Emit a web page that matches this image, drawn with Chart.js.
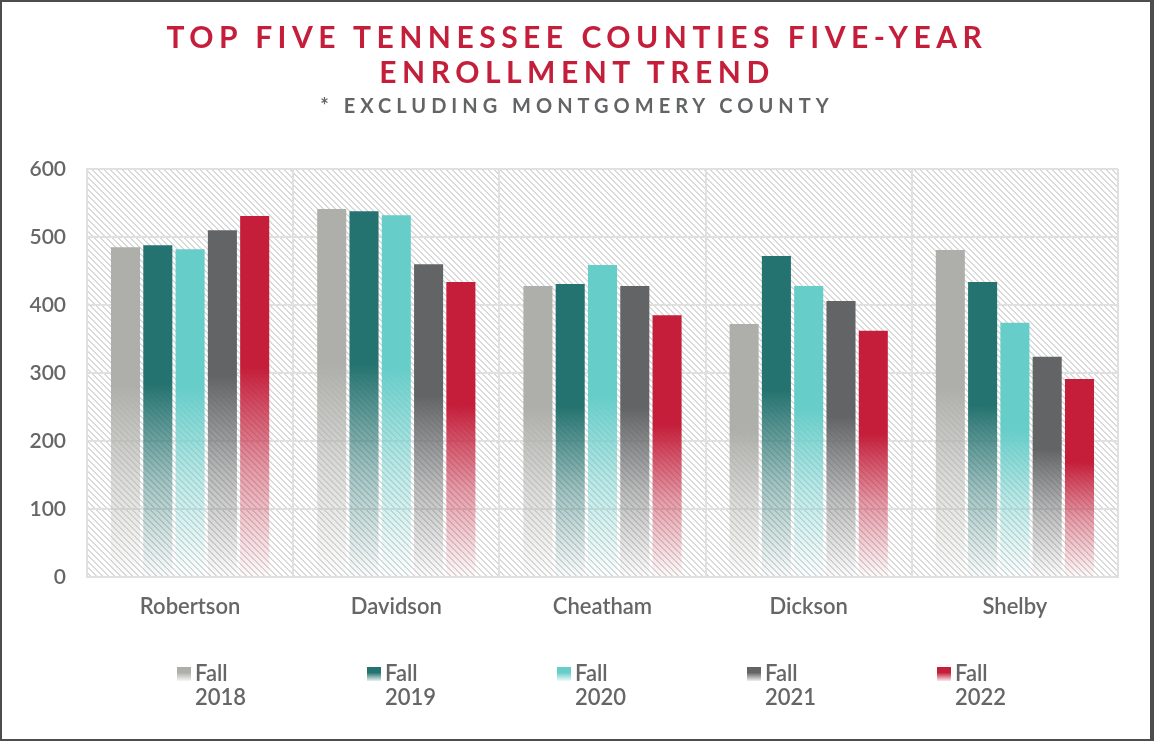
<!DOCTYPE html>
<html>
<head>
<meta charset="utf-8">
<script src="https://cdn.jsdelivr.net/npm/chart.js@4"></script>
<style>
  html, body { margin:0; padding:0; background:#fff; }
  #wrap { position:relative; width:1154px; height:741px; overflow:hidden; background:#fff; font-family: Lato, "Open Sans", sans-serif; }
  #chart { position:absolute; left:0; top:0; }
  #frame { position:absolute; left:0; top:0; width:1154px; height:741px; box-sizing:border-box; border:2px solid #4d4d4d; border-right-width:4px; pointer-events:none; }
  .title { position:absolute; left:0; width:1154px; text-align:center; color:#C41E3A; font-weight:700; font-size:30px; letter-spacing:5.5px; line-height:35px; top:19px; }
  .subtitle { position:absolute; left:0; width:1154px; text-align:center; color:#636466; font-weight:700; font-size:20px; letter-spacing:5px; top:93px; line-height:24px; }
  #legend { position:absolute; left:177px; top:661px; display:flex; }
  .li { width:190px; display:flex; align-items:flex-start; color:#666; font-size:22px; font-weight:600; line-height:24px; }
  .sw { width:14px; height:14px; margin-top:6px; margin-right:4px; flex:none; }
</style>
</head>
<body>
<div id="wrap">
  <canvas id="chart" width="1154" height="741"></canvas>
  <div class="title" id="t1"></div>
  <div class="subtitle" id="t2"></div>
  <div id="legend"></div>
  <div id="frame"></div>
</div>
<script>
const titleLines = ['TOP FIVE TENNESSEE COUNTIES FIVE-YEAR', 'ENROLLMENT TREND'];
const subtitleText = '* EXCLUDING MONTGOMERY COUNTY';
const categories = ['Robertson', 'Davidson', 'Cheatham', 'Dickson', 'Shelby'];
const seriesLabels = ['Fall 2018', 'Fall 2019', 'Fall 2020', 'Fall 2021', 'Fall 2022'];
const fall2018 = [485, 541, 428, 372, 481];
const fall2019 = [488, 538, 431, 472, 434];
const fall2020 = [482, 532, 459, 428, 374];
const fall2021 = [510, 460, 428, 406, 324];
const fall2022 = [531, 434, 385, 362, 291];
const seriesColors = ['#AEAFAA', '#257370', '#66CDC9', '#636466', '#C41E3A'];
const yTicks = [0, 100, 200, 300, 400, 500, 600];

document.getElementById('t1').innerHTML = titleLines.join('<br>');
document.getElementById('t2').textContent = subtitleText;

function rgba(hex, a) {
  const n = parseInt(hex.slice(1), 16);
  return `rgba(${(n>>16)&255},${(n>>8)&255},${n&255},${a})`;
}

function barGradient(color) {
  return (ctx) => {
    const chart = ctx.chart;
    if (!chart.chartArea || ctx.type !== 'data') return color;
    const ys = chart.scales.y;
    const v = ctx.parsed ? ctx.parsed.y : ctx.raw;
    const top = ys.getPixelForValue(v);
    const base = ys.getPixelForValue(0);
    if (!isFinite(top) || !isFinite(base) || base - top < 1) return color;
    const g = chart.ctx.createLinearGradient(0, top, 0, base);
    g.addColorStop(0, rgba(color, 1));
    g.addColorStop(0.42, rgba(color, 1));
    g.addColorStop(0.7, rgba(color, 0.45));
    g.addColorStop(1, rgba(color, 0.02));
    return g;
  };
}

const hatchPlugin = {
  id: 'hatch',
  beforeDraw(chart) {
    const { ctx, chartArea: a } = chart;
    const pc = document.createElement('canvas');
    const s = 6;
    pc.width = s; pc.height = s;
    const p = pc.getContext('2d');
    p.fillStyle = '#ffffff';
    p.fillRect(0, 0, s, s);
    p.fillStyle = '#dadada';
    for (let i = 0; i < s; i++) {
      p.fillRect(i, i, 1, 1);
      p.fillRect((i + 1) % s, i, 1, 1);
    }
    ctx.save();
    ctx.fillStyle = ctx.createPattern(pc, 'repeat');
    ctx.fillRect(a.left, a.top, a.right - a.left, a.bottom - a.top);
    ctx.restore();
  }
};

const allSeries = [fall2018, fall2019, fall2020, fall2021, fall2022];
const datasets = allSeries.map((d, i) => ({
  label: seriesLabels[i],
  data: d,
  backgroundColor: barGradient(seriesColors[i]),
  borderWidth: 0,
  categoryPercentage: 0.783,
  barPercentage: 0.9
}));

const chart = new Chart(document.getElementById('chart'), {
  type: 'bar',
  data: { labels: categories, datasets },
  plugins: [hatchPlugin],
  options: {
    responsive: false,
    animation: false,
    devicePixelRatio: 1,
    layout: { padding: { left: 0, top: 169, right: 36, bottom: 0 } },
    plugins: { legend: { display: false }, title: { display: false }, tooltip: { enabled: false } },
    scales: {
      x: {
        grid: { color: '#e0e0e0', lineWidth: 2, drawTicks: false, offset: true },
        border: { color: '#e0e0e0', width: 2 },
        ticks: { color: '#666', padding: 17, font: { family: 'Lato', size: 22, weight: '600' } },
        afterFit: (s) => { s.height = 741 - 577; }
      },
      y: {
        min: 0, max: 600,
        afterBuildTicks: (s) => { s.ticks = yTicks.map(v => ({ value: v })); },
        grid: { color: '#e0e0e0', lineWidth: 2, drawTicks: false },
        border: { color: '#e0e0e0', width: 2 },
        ticks: { color: '#666', padding: 21, font: { family: 'Lato', size: 21, weight: '600' } },
        afterFit: (s) => { s.width = 87; }
      }
    }
  }
});

const legend = document.getElementById('legend');
chart.data.datasets.forEach((ds, i) => {
  const item = document.createElement('div');
  item.className = 'li';
  const sw = document.createElement('span');
  sw.className = 'sw';
  const c = seriesColors[i];
  sw.style.background = `linear-gradient(to bottom, ${c} 0%, ${c} 40%, ${rgba(c, 0.1)} 100%)`;
  const txt = document.createElement('span');
  const parts = ds.label.split(' ');
  txt.innerHTML = parts[0] + '<br>' + parts[1];
  item.appendChild(sw);
  item.appendChild(txt);
  legend.appendChild(item);
});
</script>
</body>
</html>
